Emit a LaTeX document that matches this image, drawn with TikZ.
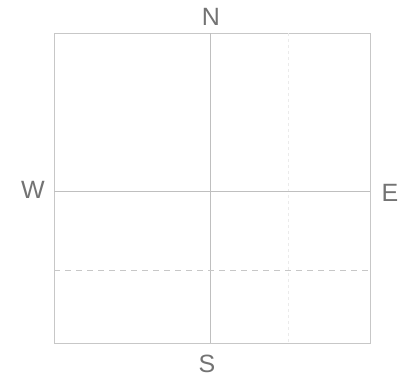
\documentclass[tikz,border=0pt]{standalone}
\usepackage{fontspec}
\setmainfont{Liberation Sans}
\begin{document}
\begin{tikzpicture}[x=1pt,y=-1pt,
  frame/.style={draw=black!22, line width=0.9pt},
  axis/.style={draw=black!25, line width=0.8pt},
  dashline/.style={draw=black!22, line width=0.8pt, dash pattern=on 6pt off 5pt},
  faint/.style={draw=black!8, line width=0.7pt, dash pattern=on 3pt off 3pt},
  lbl/.style={text=black!55, font=\fontsize{25}{25}\selectfont, inner sep=0pt}]
\useasboundingbox (0,0) rectangle (409,381);
\coordinate (tl) at (54,33);
\coordinate (br) at (370,343);
\draw[frame] (tl) rectangle (br);
\coordinate (nt) at (210,33);
\coordinate (sb) at (210,343);
\coordinate (wl) at (54,191);
\coordinate (er) at (370,191);
\coordinate (dl) at (54,270);
\coordinate (dr) at (370,270);
\coordinate (ft) at (288,33);
\coordinate (fb) at (288,343);
\draw[faint] (ft) -- (fb);
\draw[axis] (nt) -- (sb);
\draw[axis] (wl) -- (er);
\draw[dashline] (dl) -- (dr);
\node[lbl] (N) at (211,17) {N};
\node[lbl] (S) at (207,364) {S};
\node[lbl] (W) at (33,190) {W};
\node[lbl] (E) at (390,193) {E};
\end{tikzpicture}
\end{document}
